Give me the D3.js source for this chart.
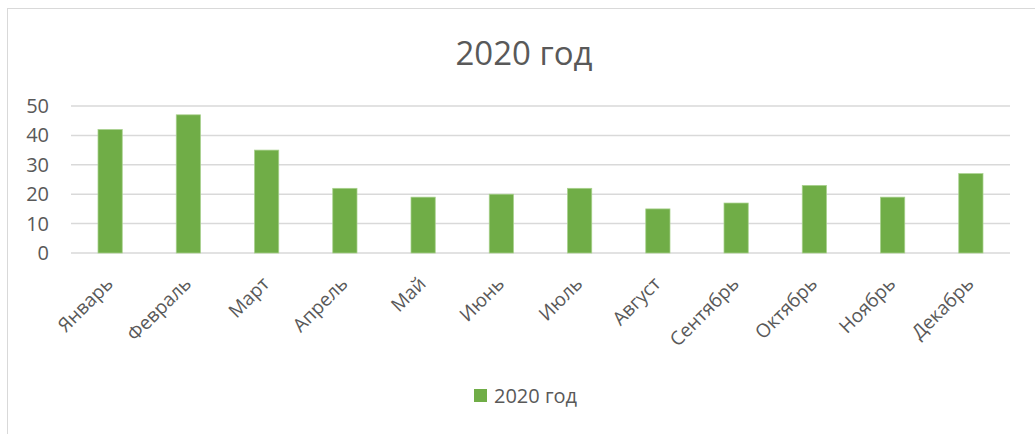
<!DOCTYPE html>
<html>
<head>
<meta charset="utf-8">
<script src="https://cdn.jsdelivr.net/npm/d3@7"></script>
<style>
    body { margin: 0; background: #fff; }
    #chart { width: 1035px; height: 434px; }
    text { font-family: "Open Sans", sans-serif; fill: #595959; }
</style>
</head>
<body>
<div id="chart"></div>
<script>
// Chart data
const months = ["Январь", "Февраль", "Март", "Апрель", "Май", "Июнь",
    "Июль", "Август", "Сентябрь", "Октябрь", "Ноябрь", "Декабрь"];
const values2020 = [42, 47, 35, 22, 19, 20, 22, 15, 17, 23, 19, 27];
const yTicks = [0, 10, 20, 30, 40, 50];
const seriesName = "2020 год";

const width = 1035;
const height = 434;
const margin = { top: 106, right: 25, bottom: 181, left: 71 };

const svg = d3.select("#chart")
    .append("svg")
    .attr("width", width)
    .attr("height", height);

// Chart frame
svg.append("rect")
    .attr("x", 7.5)
    .attr("y", 8.5)
    .attr("width", width)
    .attr("height", height)
    .attr("fill", "none")
    .attr("stroke", "#d9d9d9");

// Title
svg.append("text")
    .attr("x", 524)
    .attr("y", 65)
    .attr("text-anchor", "middle")
    .attr("font-size", "33px")
    .text(seriesName);

// Scales
const x = d3.scaleBand()
    .domain(months)
    .range([margin.left, width - margin.right])
    .paddingInner(0.69)
    .paddingOuter(0.345);

const y = d3.scaleLinear()
    .domain([0, 50])
    .range([height - margin.bottom, margin.top]);

// Gridlines
svg.selectAll(".grid")
    .data(yTicks)
    .enter()
    .append("line")
    .attr("class", "grid")
    .attr("x1", margin.left)
    .attr("x2", width - margin.right)
    .attr("y1", d => y(d))
    .attr("y2", d => y(d))
    .attr("stroke", "#d9d9d9")
    .attr("stroke-width", 1.5);

// Y tick labels
svg.selectAll(".y-label")
    .data(yTicks)
    .enter()
    .append("text")
    .attr("class", "y-label")
    .attr("x", 49)
    .attr("y", d => y(d))
    .attr("dy", "0.35em")
    .attr("text-anchor", "end")
    .attr("font-size", "20px")
    .text(d => d);

// Bars
svg.selectAll(".bar")
    .data(values2020)
    .enter()
    .append("rect")
    .attr("class", "bar")
    .attr("x", (d, i) => x(months[i]))
    .attr("y", d => y(d))
    .attr("width", x.bandwidth())
    .attr("height", d => y(0) - y(d))
    .attr("fill", "#70ad47")
    .attr("stroke", "#a9d18e")
    .attr("stroke-width", 0.75);

// Category labels
svg.selectAll(".x-label")
    .data(months)
    .enter()
    .append("text")
    .attr("class", "x-label")
    .attr("text-anchor", "end")
    .attr("font-size", "19px")
    .attr("transform", d => {
        const cx = x(d) + x.bandwidth() / 2 + 4;
        return `translate(${cx}, ${y(0) + 32}) rotate(-45)`;
    })
    .text(d => d);

// Legend
const legend = svg.append("g")
    .attr("transform", "translate(474, 389)");

legend.append("rect")
    .attr("width", 13)
    .attr("height", 13)
    .attr("fill", "#70ad47");

legend.append("text")
    .attr("x", 20)
    .attr("y", 14)
    .attr("font-size", "20px")
    .text(seriesName);
</script>
</body>
</html>
